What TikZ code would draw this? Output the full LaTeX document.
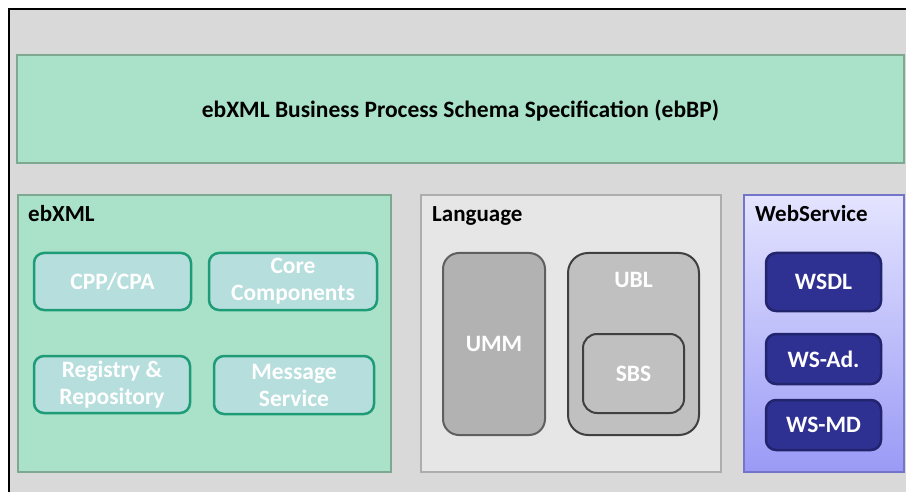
\documentclass[tikz,border=0pt]{standalone}
\usepackage{fontspec}
\setmainfont{Carlito}
\usetikzlibrary{positioning}
\definecolor{framegray}{HTML}{D9D9D9}
\definecolor{specfill}{HTML}{A9E2C8}
\definecolor{specline}{HTML}{7FA891}
\definecolor{compfill}{HTML}{B6DEDD}
\definecolor{compline}{HTML}{1E9C78}
\definecolor{langfill}{HTML}{E6E6E6}
\definecolor{langline}{HTML}{ADADAD}
\definecolor{ummfill}{HTML}{B2B2B2}
\definecolor{ummline}{HTML}{5F5F5F}
\definecolor{ublfill}{HTML}{C0C0C0}
\definecolor{ublline}{HTML}{404040}
\definecolor{wstop}{HTML}{E4E4FF}
\definecolor{wsbottom}{HTML}{9A9AF6}
\definecolor{wsline}{HTML}{7474C8}
\definecolor{wsfill}{HTML}{2E3192}
\definecolor{wsboxline}{HTML}{22256E}

\begin{document}
\begin{tikzpicture}[x=1pt,y=-1pt,
		panel/.style={rectangle,line width=2.5pt,inner sep=0pt,font=\bfseries\fontsize{23.5}{27}\selectfont},
		part/.style={rectangle,rounded corners=10pt,line width=2.5pt,inner sep=0pt,align=center,
			text=white,font=\bfseries\fontsize{23.5}{27}\selectfont},
		tag/.style={inner sep=0pt,anchor=base west,font=\bfseries\fontsize{23}{27}\selectfont}]
		\useasboundingbox (0,0) rectangle (906,492);
		% Frame
		\fill[framegray] (9,9) rectangle (906,492);
		\draw[line width=1.5pt] (9,492) -- (9,9) -- (906,9);
		% Top layer
		\node[panel,draw=specline,fill=specfill,text depth=0pt,minimum width=887,minimum height=108] (ebbp) at (460.5,109)
			{ebXML Business Process Schema Specification (ebBP)};
		% Panels
		\node[panel,draw=specline,fill=specfill,minimum width=373,minimum height=277] (ebxml) at (204.5,333.5) {};
		\node[panel,draw=langline,fill=langfill,minimum width=300,minimum height=277] (lang) at (571,333.5) {};
		\node[panel,draw=wsline,top color=wstop,bottom color=wsbottom,minimum width=160,minimum height=277] (ws) at (824,333.5) {};
		\node[tag] (ebxml-tag) at (28,222) {ebXML};
		\node[tag] (lang-tag) at (432,222) {Language};
		\node[tag] (ws-tag) at (755,222) {WebService};
		% ebXML parts
		\node[part,draw=compline,fill=compfill,minimum width=157,minimum height=57] (cpp) at (112.5,281.5) {CPP/CPA};
		\node[part,draw=compline,fill=compfill,minimum width=168,minimum height=57] (core) at (293,281.5) {Core\\Components};
		\node[part,draw=compline,fill=compfill,minimum width=156,minimum height=57] (reg) at (112,384.5) {Registry \&\\Repository};
		\node[part,draw=compline,fill=compfill,minimum width=160,minimum height=58] (msg) at (294,385) {Message\\Service};
		% Language parts
		\node[part,draw=ummline,fill=ummfill,line width=2pt,rounded corners=16pt,minimum width=102,minimum height=182] (umm) at (494,344) {UMM};
		\node[part,draw=ublline,fill=ublfill,line width=2pt,rounded corners=20pt,minimum width=131,minimum height=182] (ubl) at (633.5,344) {};
		\node[part,below=19pt of ubl.north] (ubl-tag) {UBL};
		\node[part,draw=ublline,fill=ublfill,line width=2pt,rounded corners=14pt,minimum width=101,minimum height=79] (sbs) at (633.5,373.5) {SBS};
		% WebService parts
		\node[part,draw=wsboxline,fill=wsfill,minimum width=115,minimum height=58] (wsdl) at (823.5,282) {WSDL};
		\node[part,draw=wsboxline,fill=wsfill,minimum width=115,minimum height=50] (wsad) at (823.5,359) {WS-Ad.};
		\node[part,draw=wsboxline,fill=wsfill,minimum width=115,minimum height=50] (wsmd) at (823.5,425) {WS-MD};
	\end{tikzpicture}
\end{document}
